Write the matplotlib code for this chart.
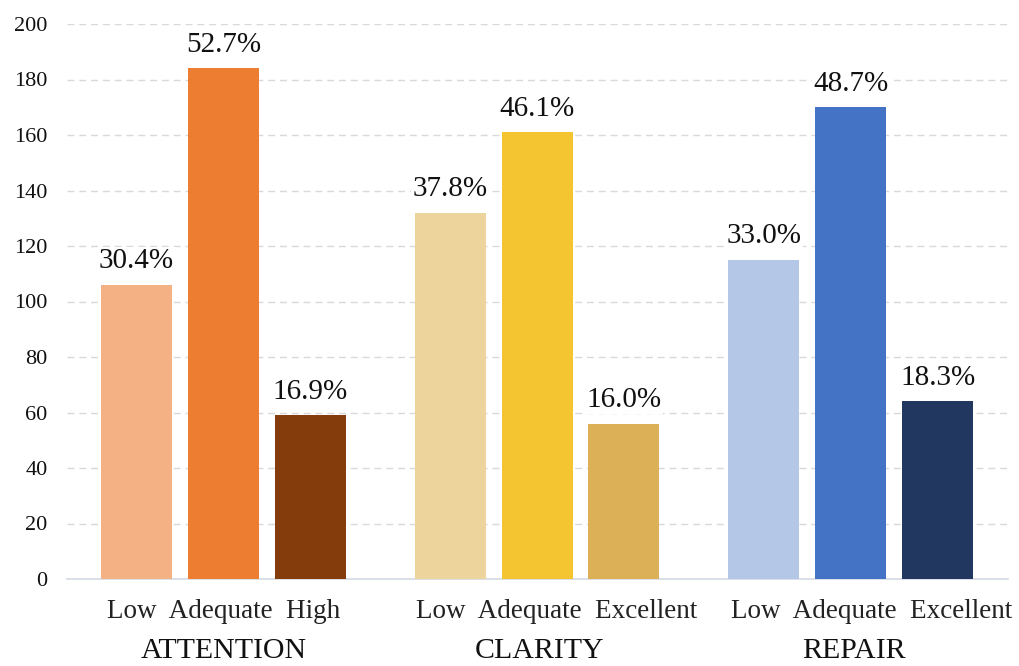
import matplotlib
matplotlib.use("Agg")
import matplotlib.pyplot as plt
import matplotlib.transforms as mtransforms

plt.rcParams['font.family'] = ['Liberation Serif', 'DejaVu Serif']

groups = ["ATTENTION", "CLARITY", "REPAIR"]
levels = [["Low", "Adequate", "High"],
          ["Low", "Adequate", "Excellent"],
          ["Low", "Adequate", "Excellent"]]
counts = [[106, 184, 59],
          [132, 161, 56],
          [115, 170, 64]]
percents = [["30.4%", "52.7%", "16.9%"],
            ["37.8%", "46.1%", "16.0%"],
            ["33.0%", "48.7%", "18.3%"]]
colors = [["#F4B183", "#ED7D31", "#843C0C"],
          ["#EDD49C", "#F4C531", "#DCB057"],
          ["#B4C7E7", "#4472C4", "#22375F"]]
yticks = [0, 20, 40, 60, 80, 100, 120, 140, 160, 180, 200]

W, H = 1019, 666
fig = plt.figure(figsize=(W / 100, H / 100), dpi=100)
ax = fig.add_axes([67 / W, 1 - 579 / H, (1008 - 67) / W, (579 - 24) / H])

group_step = 3.61
bar_w = 0.817
label_shift = [0.0, 0.22, 0.24]
tick_x, tick_lab = [], []
for g in range(len(groups)):
    for i in range(3):
        x = g * group_step + i
        ax.bar(x, counts[g][i], width=bar_w, color=colors[g][i], zorder=3)
        ax.annotate(percents[g][i], (x, counts[g][i]), xytext=(0, 12),
                    textcoords="offset points", ha="center", va="baseline",
                    fontsize=21, color="#111111", zorder=4,
                    bbox=dict(facecolor="white", edgecolor="none", pad=1))
    tick_x.append(g * group_step + 1 + label_shift[g])
    tick_lab.append("  ".join(levels[g]))
    ax.text(g * group_step + 1 + label_shift[g] * 0.15, -0.1423, groups[g],
            ha="center", va="baseline", fontsize=21.5, color="#111111",
            transform=mtransforms.blended_transform_factory(ax.transData, ax.transAxes))

ax.set_xlim(-0.80, 10.03)
ax.set_ylim(0, 200)
ax.set_yticks(yticks)
ax.set_yticklabels([str(v) for v in yticks], fontsize=16, color="#111111")
ax.set_xticks(tick_x)
ax.set_xticklabels(tick_lab, fontsize=19.5, color="#222222")
for lab in ax.get_xticklabels():
    lab.set_verticalalignment("baseline")
ax.tick_params(axis="x", length=0, pad=28)
ax.tick_params(axis="y", length=0, pad=14)

ax.yaxis.grid(True, color="#D9D9D9", linestyle=(0, (5, 3.5)), linewidth=1.0, zorder=0)
ax.set_axisbelow(True)
for s in ["top", "right", "left"]:
    ax.spines[s].set_visible(False)
ax.spines["bottom"].set_color("#D3D9E4")
ax.spines["bottom"].set_linewidth(1.2)

fig.savefig("out.png", dpi=100)
